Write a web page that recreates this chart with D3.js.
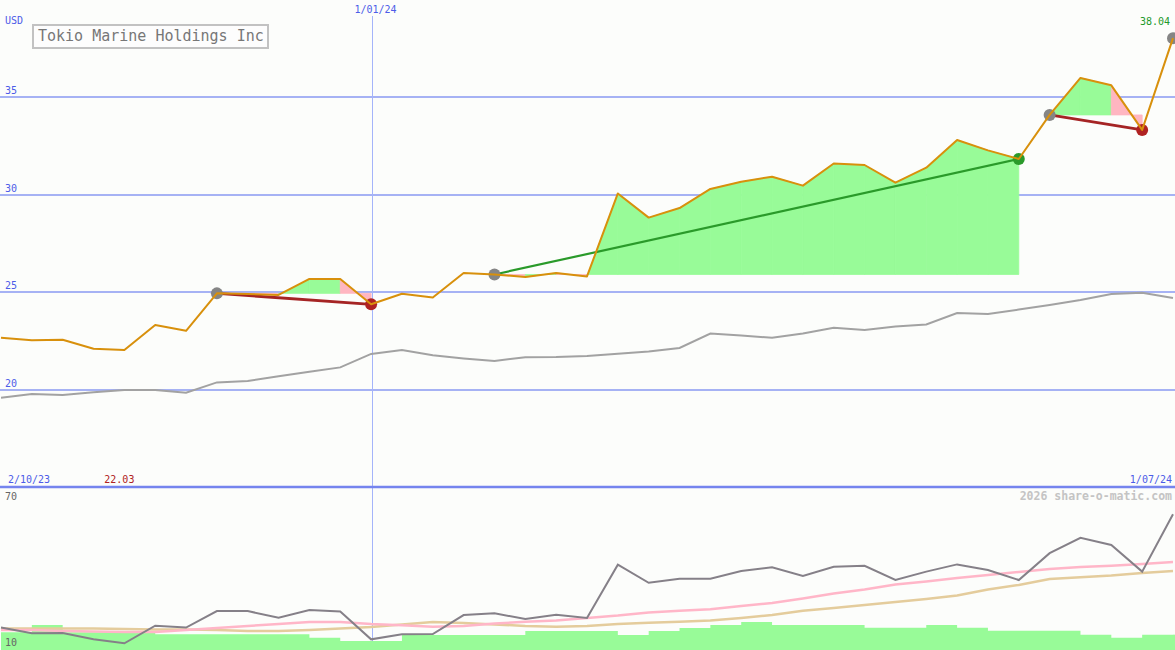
<!DOCTYPE html>
<html>
<head>
<meta charset="utf-8">
<script src="https://cdn.jsdelivr.net/npm/d3@7"></script>
<style>
  html, body { margin: 0; padding: 0; background: #fcfdfb; }
  svg { display: block; }
  text { font-family: "DejaVu Sans Mono", "Liberation Mono", monospace; }
</style>
</head>
<body>
<svg id="chart" width="1175" height="650"></svg>
<script>
// ---------- data ----------
const dates = ["2023-10-09","2023-10-16","2023-10-23","2023-10-30","2023-11-06","2023-11-13","2023-11-20","2023-11-27",
  "2023-12-04","2023-12-11","2023-12-18","2023-12-25","2024-01-01","2024-01-08","2024-01-15","2024-01-22","2024-01-29",
  "2024-02-05","2024-02-12","2024-02-19","2024-02-26","2024-03-04","2024-03-11","2024-03-18","2024-03-25","2024-04-01",
  "2024-04-08","2024-04-15","2024-04-22","2024-04-29","2024-05-06","2024-05-13","2024-05-20","2024-05-27","2024-06-03",
  "2024-06-10","2024-06-17","2024-06-24","2024-07-01"];
const price = [22.66,22.53,22.56,22.10,22.03,23.32,23.02,24.94,24.91,24.86,25.68,25.68,24.38,24.92,24.73,25.99,25.91,
  25.78,25.99,25.81,30.07,28.83,29.32,30.30,30.67,30.93,30.47,31.61,31.53,30.62,31.39,32.81,32.28,31.84,34.10,
  36.00,35.62,33.33,38.04];
const benchmark = [19.58,19.77,19.72,19.86,19.98,19.98,19.84,20.37,20.44,20.68,20.92,21.14,21.83,22.03,21.76,21.60,21.47,
  21.66,21.67,21.72,21.84,21.96,22.14,22.88,22.78,22.66,22.88,23.17,23.06,23.24,23.34,23.93,23.88,24.11,24.34,
  24.60,24.91,24.97,24.70];
const oscillator = [18.4,16.3,16.4,14.0,12.5,19.1,18.4,24.6,24.6,22.1,25.0,24.4,14.0,15.9,16.0,23.1,23.8,21.6,23.2,22.0,
  42.0,35.2,36.7,36.7,39.6,41.0,37.75,41.2,41.6,36.25,39.4,42.1,40.0,36.25,46.3,52.1,49.4,39.4,60.9];
const oscAvgFast = [17.5,17.5,17.1,16.9,16.75,16.75,17.5,18.25,19.0,19.75,20.5,20.5,19.75,19.3,18.7,19.0,19.9,20.6,21.1,
  22.0,22.9,24.1,24.7,25.3,26.5,27.6,29.3,31.2,32.7,34.6,35.7,37.0,38.1,39.25,40.4,41.1,41.6,42.25,43.0];
const oscAvgSlow = [18.1,18.1,18.1,18.1,17.9,17.7,17.7,17.5,17.1,17.1,17.5,18.1,18.6,19.6,20.5,20.1,19.6,19.0,18.7,19.0,
  19.75,20.2,20.6,21.1,22.0,23.1,24.7,25.75,26.9,28.0,29.1,30.4,32.7,34.4,36.6,37.3,37.9,38.9,39.6];
const volume = [11.1,15.6,11.1,11.1,11.1,9.8,9.8,9.8,9.8,9.8,7.7,5.6,5.6,9.4,9.4,9.4,9.4,11.9,11.9,11.9,9.4,11.9,13.75,
  15.6,17.5,15.6,15.6,15.6,13.9,13.9,15.6,13.9,12.1,12.1,12.1,9.6,7.7,9.6,9.6];
const tradeEntryDates = ["2023-11-27","2024-01-29","2024-06-03"];
const tradeExitDates  = ["2024-01-01","2024-05-27","2024-06-24"];
const priceTicks = [20,25,30,35];
const lowerTicks = [70,10];
const title = "Tokio Marine Holdings Inc";
const currency = "USD";
const markerDate = "2024-01-01";
const markerLabel = "1/01/24";
const startLabel = "2/10/23";
const endLabel = "1/07/24";
const lastLabel = "38.04";
const minLabel = "22.03";
const credit = "2026 share-o-matic.com";

// ---------- setup ----------
const W = 1175, H = 650;
const parse = d3.utcParse("%Y-%m-%d");
const D = dates.map(parse);
const svg = d3.select("#chart");
const bg = "#fcfdfb";
svg.append("rect").attr("width", W).attr("height", H).attr("fill", bg);

const x = d3.scaleUtc().domain(d3.extent(D)).range([1, 1173]);
const y = d3.scaleLinear().domain([15, 40]).range([487, 0]);
const yl = d3.scaleLinear().domain([10, 70]).range([650, 490]);
const yv = d3.scaleLinear().domain([0, 100]).range([650, 490]);

const idxOf = s => dates.indexOf(s);

// grid lines
svg.append("g").selectAll("line").data(priceTicks).join("line")
  .attr("x1", 0).attr("x2", W)
  .attr("y1", d => Math.round(y(d))).attr("y2", d => Math.round(y(d)))
  .attr("stroke", "#a6b2f4").attr("stroke-width", 2);
svg.append("g").selectAll("text").data(priceTicks).join("text")
  .attr("x", 5).attr("y", d => Math.round(y(d)) - 3)
  .attr("font-size", 10).attr("fill", "#4c5ce8").text(d => d);

// vertical marker
const mx = Math.round(x(parse(markerDate))) + 1.5;
svg.append("line").attr("x1", mx).attr("x2", mx).attr("y1", 16).attr("y2", H)
  .attr("stroke", "#a4b4fa").attr("stroke-width", 1);
svg.append("text").attr("x", mx + 3).attr("y", 13).attr("text-anchor", "middle")
  .attr("font-size", 10).attr("fill", "#4c5ce8").text(markerLabel);

// trade fills
const fills = svg.append("g");
tradeEntryDates.forEach((ed, t) => {
  const a = idxOf(ed), b = idxOf(tradeExitDates[t]);
  const base = price[a];
  for (let i = a; i < b; i++) {
    const pts = [[x(D[i]), y(base)], [x(D[i]), y(price[i])], [x(D[i+1]), y(price[i+1])], [x(D[i+1]), y(base)]];
    const c = price[i+1] >= base ? "#98fb98" : "#ffb6c1";
    fills.append("path").attr("d", "M" + pts.map(p => p.join(",")).join("L") + "Z")
      .attr("fill", c).attr("stroke", c).attr("stroke-width", 0.8);
  }
});

// benchmark line
const line = (ys, arr) => d3.line().x((d, i) => x(D[i])).y(d => ys(d))(arr);
svg.append("path").attr("d", line(y, benchmark)).attr("fill", "none")
  .attr("stroke", "#a2a2a2").attr("stroke-width", 2);

// trade lines and markers
tradeEntryDates.forEach((ed, t) => {
  const a = idxOf(ed), b = idxOf(tradeExitDates[t]);
  const win = price[b] >= price[a];
  svg.append("line").attr("x1", x(D[a])).attr("y1", y(price[a])).attr("x2", x(D[b])).attr("y2", y(price[b]))
    .attr("stroke", win ? "#2a9a2a" : "#a52424").attr("stroke-width", win ? 2.2 : 2.8);
  svg.append("circle").attr("cx", x(D[a])).attr("cy", y(price[a])).attr("r", 6).attr("fill", "#858585");
  svg.append("circle").attr("cx", x(D[b])).attr("cy", y(price[b])).attr("r", 6).attr("fill", win ? "#2a9a2a" : "#b02222");
});
// last point marker
svg.append("circle").attr("cx", x(D[D.length-1])).attr("cy", y(price[price.length-1])).attr("r", 6).attr("fill", "#858585");

// price line
svg.append("path").attr("d", line(y, price)).attr("fill", "none")
  .attr("stroke", "#d8900c").attr("stroke-width", 2).attr("stroke-linejoin", "round");

// title
svg.append("rect").attr("x", 33).attr("y", 25).attr("width", 235).attr("height", 23)
  .attr("fill", "#fdfdfd").attr("stroke", "#c2c2c2").attr("stroke-width", 2);
svg.append("text").attr("x", 38).attr("y", 41).attr("font-size", 15).attr("fill", "#777").text(title);
svg.append("text").attr("x", 5).attr("y", 24).attr("font-size", 10).attr("fill", "#4c5ce8").text(currency);
svg.append("text").attr("x", 1170).attr("y", 25).attr("text-anchor", "end").attr("font-size", 10)
  .attr("fill", "#22992a").text(lastLabel);

// bottom labels of main panel
svg.append("text").attr("x", 8).attr("y", 483).attr("font-size", 10).attr("fill", "#4c5ce8").text(startLabel);
svg.append("text").attr("x", 1172).attr("y", 483).attr("text-anchor", "end").attr("font-size", 10).attr("fill", "#4c5ce8").text(endLabel);
const minI = price.indexOf(d3.min(price));
svg.append("text").attr("x", x(D[minI]) - 5).attr("y", 483).attr("text-anchor", "middle").attr("font-size", 10)
  .attr("fill", "#b02222").text(minLabel);

// separator
svg.append("line").attr("x1", 0).attr("x2", W).attr("y1", 487).attr("y2", 487)
  .attr("stroke", "#7584ee").attr("stroke-width", 2.5);

// lower panel: volume bars
const area = d3.area().curve(d3.curveStepAfter).x((d, i) => x(D[i])).y0(yv(0)).y1(d => yv(d));
svg.append("path").attr("d", area(volume)).attr("fill", "#98fb98");
svg.append("rect").attr("x", x(D[D.length-1])).attr("width", W - x(D[D.length-1]))
  .attr("y", yv(volume[volume.length-1])).attr("height", yv(0) - yv(volume[volume.length-1])).attr("fill", "#98fb98");

svg.append("path").attr("d", line(yl, oscAvgSlow)).attr("fill", "none").attr("stroke", "#e4cc9c").attr("stroke-width", 2.5);
svg.append("path").attr("d", line(yl, oscAvgFast)).attr("fill", "none").attr("stroke", "#ffb6c8").attr("stroke-width", 2.5);
svg.append("path").attr("d", line(yl, oscillator)).attr("fill", "none").attr("stroke", "#858088").attr("stroke-width", 2);

svg.append("text").attr("x", 5).attr("y", 500).attr("font-size", 10).attr("fill", "#666").text(lowerTicks[0]);
svg.append("text").attr("x", 5).attr("y", 646).attr("font-size", 10).attr("fill", "#666").text(lowerTicks[1]);
svg.append("text").attr("x", 1172).attr("y", 500).attr("text-anchor", "end").attr("font-size", 11.5)
  .attr("font-weight", "bold").attr("fill", "#c4c4c4").text(credit);
</script>
</body>
</html>
